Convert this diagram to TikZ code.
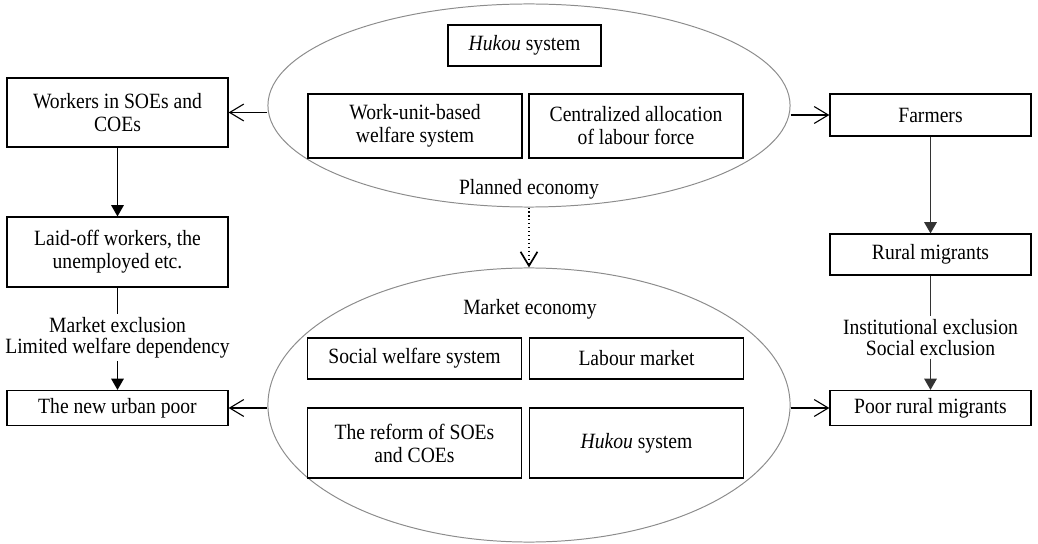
\documentclass[tikz,border=0pt]{standalone}
\usepackage{fontspec}
\setmainfont{Liberation Serif}[FakeStretch=0.9]
\usetikzlibrary{shapes.geometric, arrows.meta}

\begin{document}
\begin{tikzpicture}[x=0.025cm, y=-0.025cm,
    font=\fontsize{15.5}{16.3}\selectfont,
    box/.style={draw, line width=0.85pt, align=center, inner sep=0pt},
    ell/.style={draw=black!45, line width=0.7pt, ellipse, inner sep=0pt},
    lbl/.style={align=center, inner sep=2pt, font=\fontsize{15.5}{15}\selectfont},
    fill tip/.style={-{Triangle[width=9pt, length=8pt]}, line width=0.7pt},
    open tip/.style={-{Straight Barb[width=12pt, length=10pt]}, line width=0.8pt}]
    \useasboundingbox (0,0) rectangle (1038,544);

    % Ellipses
    \node[ell, minimum width=13.05cm, minimum height=5.075cm] (plan) at (529,105.5) {};
    \node[ell, minimum width=13.05cm, minimum height=6.85cm] (mkt) at (529,405) {};

    % Planned economy
    \node[box, minimum width=3.825cm, minimum height=1.025cm] (hk1) at (524.5,45.5) {\textit{Hukou} system};
    \node[box, minimum width=5.35cm, minimum height=1.6cm] (wu) at (415,126) {Work-unit-based\\welfare system};
    \node[box, minimum width=5.35cm, minimum height=1.6cm] (ca) at (636,126) {Centralized allocation\\of labour force};
    \node (pe) at (529,189) {Planned economy};

    % Market economy
    \node (me) at (530,309) {Market economy};
    \node[box, minimum width=5.35cm, minimum height=1.025cm] (sw) at (414.5,358.5) {Social welfare system};
    \node[box, minimum width=5.35cm, minimum height=1.025cm] (lm) at (636.5,358.5) {Labour market};
    \node[box, minimum width=5.35cm, minimum height=1.75cm] (rf) at (414.5,443) {The reform of SOEs\\and COEs};
    \node[box, minimum width=5.35cm, minimum height=1.75cm] (hk2) at (636.5,443) {\textit{Hukou} system};

    % Left column
    \node[box, minimum width=5.525cm, minimum height=1.725cm] (wk) at (117.5,112.5) {Workers in SOEs and\\COEs};
    \node[box, minimum width=5.525cm, minimum height=1.75cm] (laid) at (117.5,252) {Laid-off workers, the\\unemployed etc.};
    \node[lbl] (lab1) at (117.5,337.5) {Market exclusion\\Limited welfare dependency};
    \node[box, minimum width=5.525cm, minimum height=0.875cm] (urban) at (117.5,408) {The new urban poor};

    % Right column
    \node[box, minimum width=5.025cm, minimum height=1.05cm] (farm) at (930.5,115) {Farmers};
    \node[box, minimum width=5.025cm, minimum height=1.025cm] (rural) at (930.5,254.5) {Rural migrants};
    \node[lbl] (lab2) at (930.5,337.5) {Institutional exclusion\\Social exclusion};
    \node[box, minimum width=5.025cm, minimum height=0.875cm] (poor) at (930.5,408) {Poor rural migrants};

    % Arrows out of the ellipses
    \draw[open tip] (wk.east -| plan.west) -- (wk.east);
    \draw[open tip] (farm.west -| plan.east) -- (farm.west);
    \draw[open tip] (urban.east -| mkt.west) -- (urban.east);
    \draw[open tip] (poor.west -| mkt.east) -- (poor.west);
    \draw[open tip, dotted, line width=1.2pt] (plan.south) -- (mkt.north);

    % Column arrows
    \draw[fill tip] (wk) -- (laid);
    \draw[line width=0.7pt] (laid) -- (lab1);
    \draw[fill tip] (lab1) -- (urban);
    \draw[fill tip, black!80] (farm) -- (rural);
    \draw[line width=0.7pt, black!80] (rural) -- (lab2);
    \draw[fill tip, black!80] (lab2) -- (poor);
\end{tikzpicture}
\end{document}
